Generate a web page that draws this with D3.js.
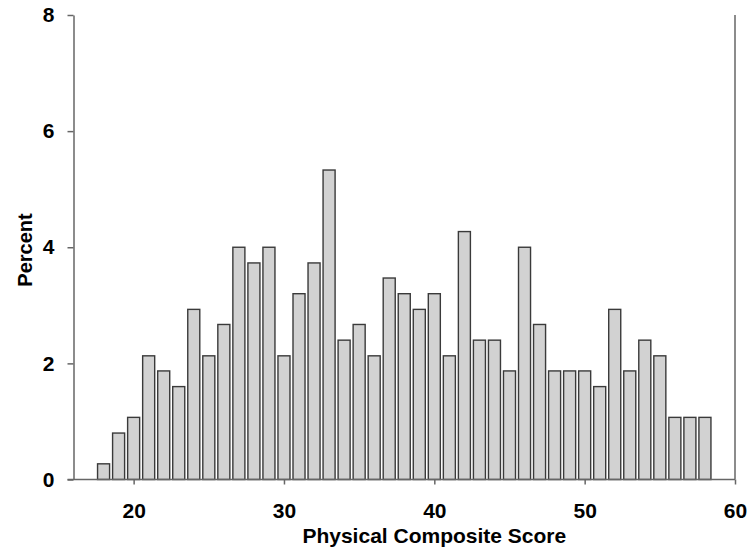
<!DOCTYPE html>
<html>
<head>
<meta charset="utf-8">
<script src="https://cdn.jsdelivr.net/npm/d3@7"></script>
<style>
  html, body { margin: 0; padding: 0; background: #fff; }
  svg { display: block; }
  text { font-family: "Liberation Sans", Arial, Helvetica, sans-serif; font-weight: bold; fill: #000; }
</style>
</head>
<body>
<svg id="chart" width="752" height="555"></svg>
<script>
// Data: physical composite score (integer bins) and percent of respondents
const scores = [18,19,20,21,22,23,24,25,26,27,28,29,30,31,32,33,34,35,36,37,38,39,40,41,42,43,44,45,46,47,48,49,50,51,52,53,54,55,56,57,58];
const percents = [0.27,0.80,1.07,2.13,1.87,1.60,2.93,2.13,2.67,4.00,3.73,4.00,2.13,3.20,3.73,5.33,2.40,2.67,2.13,3.47,3.20,2.93,3.20,2.13,4.27,2.40,2.40,1.87,4.00,2.67,1.87,1.87,1.87,1.60,2.93,1.87,2.40,2.13,1.07,1.07,1.07];
const xTicks = [20,30,40,50,60];
const yTicks = [0,2,4,6,8];
const xLabel = "Physical Composite Score";
const yLabel = "Percent";

(function () {
const svg = d3.select("#chart");
const mLeft = 73.5, mRight = 735, mTop = 15, mBottom = 479.5;

const x = d3.scaleLinear().domain([16, 60]).range([mLeft, mRight]);
const y = d3.scaleLinear().domain([0, 8]).range([mBottom, mTop]);
const barW = (x(1) - x(0)) * 0.8;

// Bars
svg.append("g").selectAll("rect")
  .data(scores.map((s, i) => ({s, p: percents[i]})))
  .join("rect")
  .attr("x", d => x(d.s) - barW / 2)
  .attr("y", d => y(d.p))
  .attr("width", barW)
  .attr("height", d => y(0) - y(d.p))
  .attr("fill", "#d2d2d2")
  .attr("stroke", "#3a3a3a")
  .attr("stroke-width", 1.4);

// Right frame line
svg.append("line")
  .attr("x1", mRight).attr("x2", mRight)
  .attr("y1", mTop).attr("y2", mBottom)
  .attr("stroke", "#666").attr("stroke-width", 1.5);

// Y axis
const yAxis = svg.append("g")
  .attr("transform", `translate(${mLeft},0)`)
  .call(d3.axisLeft(y).tickValues(yTicks).tickFormat(d3.format("d")).tickSize(6).tickSizeOuter(0).tickPadding(13));

// X axis
const xAxis = svg.append("g")
  .attr("transform", `translate(0,${mBottom})`)
  .call(d3.axisBottom(x).tickValues(xTicks).tickFormat(d3.format("d")).tickSize(5).tickSizeOuter(0).tickPadding(19));

[yAxis, xAxis].forEach(g => {
  g.select(".domain").attr("stroke", "#666").attr("stroke-width", 1.5);
  g.selectAll(".tick line").attr("stroke", "#666").attr("stroke-width", 1.5);
  g.selectAll(".tick text").style("font-size", "21px").attr("fill", "#000");
});
xAxis.select(".domain").attr("d", `M${mLeft - 6},0H${mRight}`);

// Axis titles
svg.append("text")
  .attr("x", x(40))
  .attr("y", 543)
  .attr("text-anchor", "middle")
  .style("font-size", "21px")
  .text(xLabel);

svg.append("text")
  .attr("transform", `translate(31.5,250) rotate(-90)`)
  .attr("text-anchor", "middle")
  .style("font-size", "20px")
  .text(yLabel);
})();
</script>
</body>
</html>
